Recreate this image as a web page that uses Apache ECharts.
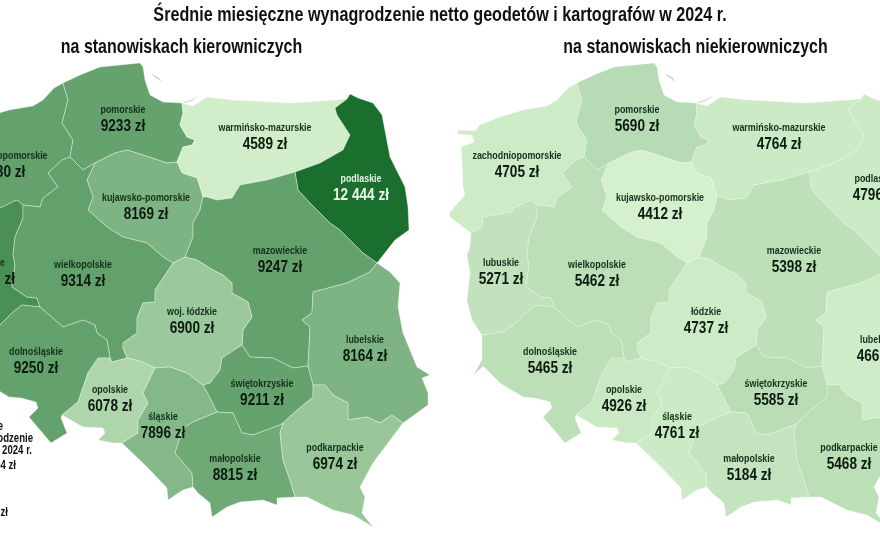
<!DOCTYPE html>
<html>
<head>
<meta charset="utf-8">
<title>Wynagrodzenia geodetów i kartografów</title>
<script src="https://cdn.jsdelivr.net/npm/echarts@6/dist/echarts.min.js"></script>
<style>
	html, body { margin: 0; padding: 0; background: #fff; overflow: hidden; }
	#chart { width: 880px; height: 540px; }
</style>
</head>
<body>
<div id="chart"></div>
<script>
// dane z wykresu
var regionNames = ['zachodniopomorskie', 'pomorskie', 'warmińsko-mazurskie', 'podlaskie', 'kujawsko-pomorskie',
	'mazowieckie', 'lubuskie', 'wielkopolskie', 'łódzkie', 'lubelskie', 'dolnośląskie', 'opolskie', 'śląskie',
	'świętokrzyskie', 'małopolskie', 'podkarpackie'];
var managerValues = [9280, 9233, 4589, 12444, 8169, 9247, 10400, 9314, 6900, 8164, 9250, 6078, 7896, 9211, 8815, 6974];
var staffValues = [4705, 5690, 4764, 4796, 4412, 5398, 5271, 5462, 4737, 4665, 5465, 4926, 4761, 5585, 5184, 5468];

var titleText = 'Średnie miesięczne wynagrodzenie netto geodetów i kartografów w 2024 r.';
var managerTitle = 'na stanowiskach kierowniczych';
var staffTitle = 'na stanowiskach niekierowniczych';
var noteLines = ['Średnie', 'wynagrodzenie', 'netto w 2024 r.', '8654 zł'];
var noteLast = '7154 zł';

// kontury wojewodztw (x, y w jednostkach mapy, y w dol)
var regionShapes = {
	'zachodniopomorskie': [[63,83],[68,100],[62,123],[73,140],[70,157],[62,160],[48,173],[58,187],[43,198],[40,207],[23,205],[17,200],[0,208],[-2,212],[-31,217],[-32,227],[-43,233],[-64,217],[-65,213],[-49,195],[-51,187],[-52,157],[-53,147],[-40,142],[-42,135],[-56,134],[-56,130],[-39,131],[-34,125],[-14,117],[9,110],[33,106],[43,100],[54,88]],
	'pomorskie': [[63,83],[80,75],[100,67],[140,63],[143,67],[145,80],[150,95],[163,102],[182,103],[183,113],[180,125],[187,137],[195,140],[192,145],[183,147],[177,162],[167,163],[143,155],[127,150],[115,153],[95,163],[83,170],[70,157],[73,140],[62,123],[68,100]],
	'warmińsko-mazurskie': [[182,103],[193,106],[207,97],[233,100],[293,103],[347,99],[335,108],[337,115],[350,135],[343,150],[320,163],[295,172],[267,180],[240,185],[232,198],[217,200],[207,197],[203,197],[197,178],[182,173],[177,162],[183,147],[192,145],[195,140],[187,137],[180,125],[183,113]],
	'podlaskie': [[347,99],[350,94],[358,98],[373,103],[382,115],[390,157],[405,187],[408,207],[409,230],[395,240],[377,263],[363,253],[340,230],[330,223],[310,203],[298,190],[295,172],[320,163],[343,150],[350,135],[337,115],[335,108]],
	'kujawsko-pomorskie': [[177,162],[182,173],[197,178],[203,197],[200,210],[193,223],[193,237],[185,257],[173,263],[163,257],[147,243],[123,237],[107,227],[88,210],[93,197],[87,180],[95,163],[115,153],[127,150],[143,155],[167,163]],
	'mazowieckie': [[203,197],[207,197],[217,200],[232,198],[240,185],[267,180],[295,172],[298,190],[310,203],[330,223],[340,230],[363,253],[377,263],[370,272],[347,283],[313,292],[312,313],[302,320],[310,327],[308,366],[293,368],[273,358],[250,357],[242,345],[243,330],[252,317],[248,302],[232,293],[232,283],[223,275],[213,270],[197,260],[185,257],[193,237],[193,223],[200,210]],
	'lubuskie': [[-43,233],[-32,227],[-31,217],[-2,212],[0,208],[17,200],[23,205],[23,218],[15,237],[13,255],[15,265],[12,287],[27,297],[37,298],[40,307],[22,305],[13,312],[0,325],[-11,332],[-32,335],[-42,320],[-47,300],[-44,273],[-47,255],[-44,247]],
	'wielkopolskie': [[70,157],[83,170],[95,163],[87,180],[93,197],[88,210],[107,227],[123,237],[147,243],[163,257],[173,263],[155,290],[155,302],[143,303],[137,318],[137,333],[123,343],[123,348],[127,358],[112,362],[110,358],[107,340],[97,333],[95,325],[83,320],[63,327],[55,320],[40,307],[37,298],[27,297],[12,287],[15,265],[13,255],[15,237],[23,218],[23,205],[40,207],[43,198],[58,187],[48,173],[62,160]],
	'łódzkie': [[173,263],[185,257],[197,260],[213,270],[223,275],[232,283],[232,293],[248,302],[252,317],[243,330],[242,345],[222,358],[220,370],[210,383],[203,385],[187,373],[170,367],[155,368],[143,362],[127,358],[123,348],[123,343],[137,333],[137,318],[143,303],[155,302],[155,290]],
	'lubelskie': [[377,263],[390,272],[400,283],[398,307],[403,333],[417,367],[430,375],[422,378],[428,393],[428,405],[403,423],[392,415],[380,423],[367,417],[348,420],[348,403],[333,395],[325,385],[313,385],[308,366],[310,327],[302,320],[312,313],[313,292],[347,283],[370,272]],
	'dolnośląskie': [[-32,335],[-11,332],[0,325],[13,312],[22,305],[40,307],[55,320],[63,327],[83,320],[95,325],[97,333],[107,340],[110,358],[98,358],[88,373],[78,402],[62,415],[61,418],[67,433],[51,443],[29,417],[38,408],[36,402],[21,398],[9,397],[-14,383],[-31,366],[-41,376],[-32,360]],
	'opolskie': [[110,358],[112,362],[127,358],[143,362],[155,368],[143,393],[148,403],[138,420],[138,433],[122,443],[113,443],[98,440],[105,433],[103,428],[83,427],[62,415],[78,402],[88,373],[98,358]],
	'śląskie': [[155,368],[170,367],[187,373],[203,385],[207,392],[217,412],[193,422],[183,428],[175,453],[192,473],[193,487],[183,490],[168,500],[167,488],[147,467],[122,443],[138,433],[138,420],[148,403],[143,393]],
	'świętokrzyskie': [[242,345],[250,357],[273,358],[293,368],[308,366],[313,385],[313,397],[295,412],[283,423],[280,425],[253,435],[242,433],[233,413],[217,412],[207,392],[203,385],[210,383],[220,370],[222,358]],
	'małopolskie': [[217,412],[233,413],[242,433],[253,435],[280,425],[283,423],[280,433],[283,460],[290,480],[295,497],[277,498],[277,505],[263,500],[240,502],[227,507],[212,517],[210,503],[198,493],[193,487],[192,473],[175,453],[183,428],[193,422]],
	'podkarpackie': [[313,385],[325,385],[333,395],[348,403],[348,420],[367,417],[380,423],[392,415],[403,423],[373,463],[360,487],[365,497],[362,513],[373,527],[353,515],[333,510],[307,497],[295,497],[290,480],[283,460],[280,433],[283,423],[295,412],[313,397]]
};
// mierzeje: Hel i Wislana (bez danych)
var spitShapes = {
	'Hel': [[152,74],[158,77],[162,82],[161,83],[157,79],[152,75]],
	'Mierzeja Wiślana': [[183,102],[191,100],[200,95],[200,96],[192,101],[184,103]]
};
// srodek opisu kazdego wojewodztwa
var labelSpots = {
	'zachodniopomorskie': [3,164], 'pomorskie': [123,118], 'warmińsko-mazurskie': [265,136], 'podlaskie': [361,187],
	'kujawsko-pomorskie': [146,206], 'mazowieckie': [280,259], 'lubuskie': [-13,271], 'wielkopolskie': [83,273],
	'łódzkie': [192,320], 'lubelskie': [365,348], 'dolnośląskie': [36,360], 'opolskie': [110,398],
	'śląskie': [163,425], 'świętokrzyskie': [262,392], 'małopolskie': [235,467], 'podkarpackie': [335,456]
};

var labelFont = '"Liberation Sans", sans-serif';

/**
 * Rejestracja mapy z konturow (kazda seria ma wlasna nazwe mapy)
 */
function registerPoland(mapName) {
	var allNames = regionNames.concat(Object.keys(spitShapes));
	var features = allNames.map(function(name) {
		var ring = (regionShapes[name] || spitShapes[name]).map(function(p) { return [p[0], -p[1]]; });
		ring.push(ring[0]);
		return {
			type: 'Feature',
			properties: { name: name },
			geometry: { type: 'Polygon', coordinates: [ring] }
		};
	});
	echarts.registerMap(mapName, { type: 'FeatureCollection', features: features });
}

/**
 * Format kwoty: 12444 -> 12 444 zł
 */
function moneyText(val) {
	var s = String(val);
	if (s.length > 4) {
		s = s.slice(0, s.length - 3) + ' ' + s.slice(-3);
	}
	return s + ' zł';
}

/**
 * Geo dla jednej mapy
 */
function geoOption(mapName, left, borderColor) {
	return {
		map: mapName,
		left: left,
		top: 55,
		width: 510,
		height: 480,
		aspectScale: 1,
		boundingCoords: [[-70, -55], [440, -535]],
		silent: true,
		label: { show: false },
		itemStyle: { areaColor: '#d4d8d4', borderColor: borderColor, borderWidth: 0.8 },
		regions: Object.keys(spitShapes).map(function(n) {
			return { name: n, itemStyle: { areaColor: '#d4d8d4', borderWidth: 0 } };
		})
	};
}

/**
 * Seria kolorujaca wojewodztwa
 */
function fillSeries(name, values, geoIndex) {
	return {
		name: name,
		type: 'map',
		geoIndex: geoIndex,
		silent: true,
		data: regionNames.map(function(n, i) { return { name: n, value: values[i] }; })
	};
}

/**
 * Seria z opisami: nazwa i kwota (tekst zwezony przez scaleX)
 */
function labelSeries(values, geoIndex, labelNames) {
	return {
		type: 'custom',
		coordinateSystem: 'geo',
		geoIndex: geoIndex,
		silent: true,
		clip: false,
		data: regionNames.map(function(n, i) {
			return [labelSpots[n][0], -labelSpots[n][1], values[i]];
		}),
		renderItem: function(params, api) {
			var pos = api.coord([api.value(0), api.value(1)]);
			var val = api.value(2);
			var n = regionNames[params.dataIndex];
			var light = val > 11000;
			return {
				type: 'group',
				children: [{
					type: 'text', x: pos[0], y: pos[1] - 8, scaleX: 0.81,
					style: { text: labelNames[n] || n, fill: light ? '#e6f3e2' : '#14301c',
						font: 'bold 11px ' + labelFont, textAlign: 'center', textVerticalAlign: 'middle' }
				}, {
					type: 'text', x: pos[0], y: pos[1] + 8, scaleX: 0.8,
					style: { text: moneyText(val), fill: light ? '#eef7ea' : '#0d1a10',
						font: 'bold 17px ' + labelFont, textAlign: 'center', textVerticalAlign: 'middle' }
				}]
			};
		}
	};
}

/**
 * Tekst na wierzchu
 */
function overlayText(text, x, y, size, align, scale) {
	return { type: 'text', x: x, y: y, scaleX: scale, silent: true, style: {
		text: text, fill: '#111', font: 'bold ' + size + 'px ' + labelFont, textAlign: align, textVerticalAlign: 'middle'
	} };
}

registerPoland('polskaKier');
registerPoland('polskaNiekier');

var myChart = echarts.init(document.getElementById('chart'));
var noteY = [427, 439, 451, 466];
var noteX = [3, 33, 32, 16];
var texts = [
	overlayText(titleText, 440, 15, 21, 'center', 0.77),
	overlayText(managerTitle, 181.5, 47, 21, 'center', 0.76),
	overlayText(staffTitle, 695.5, 47, 21, 'center', 0.76)
];
noteLines.forEach(function(t, i) { texts.push(overlayText(t, noteX[i], noteY[i], 12, 'right', 0.8)); });
texts.push(overlayText(noteLast, 8, 513, 12, 'right', 0.8));

myChart.setOption({
	backgroundColor: '#ffffff',
	animation: false,
	visualMap: {
		show: false,
		type: 'continuous',
		min: 4412,
		max: 12444,
		seriesIndex: [0, 1],
		inRange: { color: ['#d5f0cd', '#1a6e2e'] }
	},
	geo: [geoOption('polskaKier', -70, 'rgba(255,255,255,0.45)'), geoOption('polskaNiekier', 444, 'rgba(255,255,255,0.3)')],
	graphic: texts,
	series: [
		fillSeries(managerTitle, managerValues, 0),
		fillSeries(staffTitle, staffValues, 1),
		labelSeries(managerValues, 0, { 'łódzkie': 'woj. łódzkie' }),
		labelSeries(staffValues, 1, {})
	]
});
</script>
</body>
</html>
